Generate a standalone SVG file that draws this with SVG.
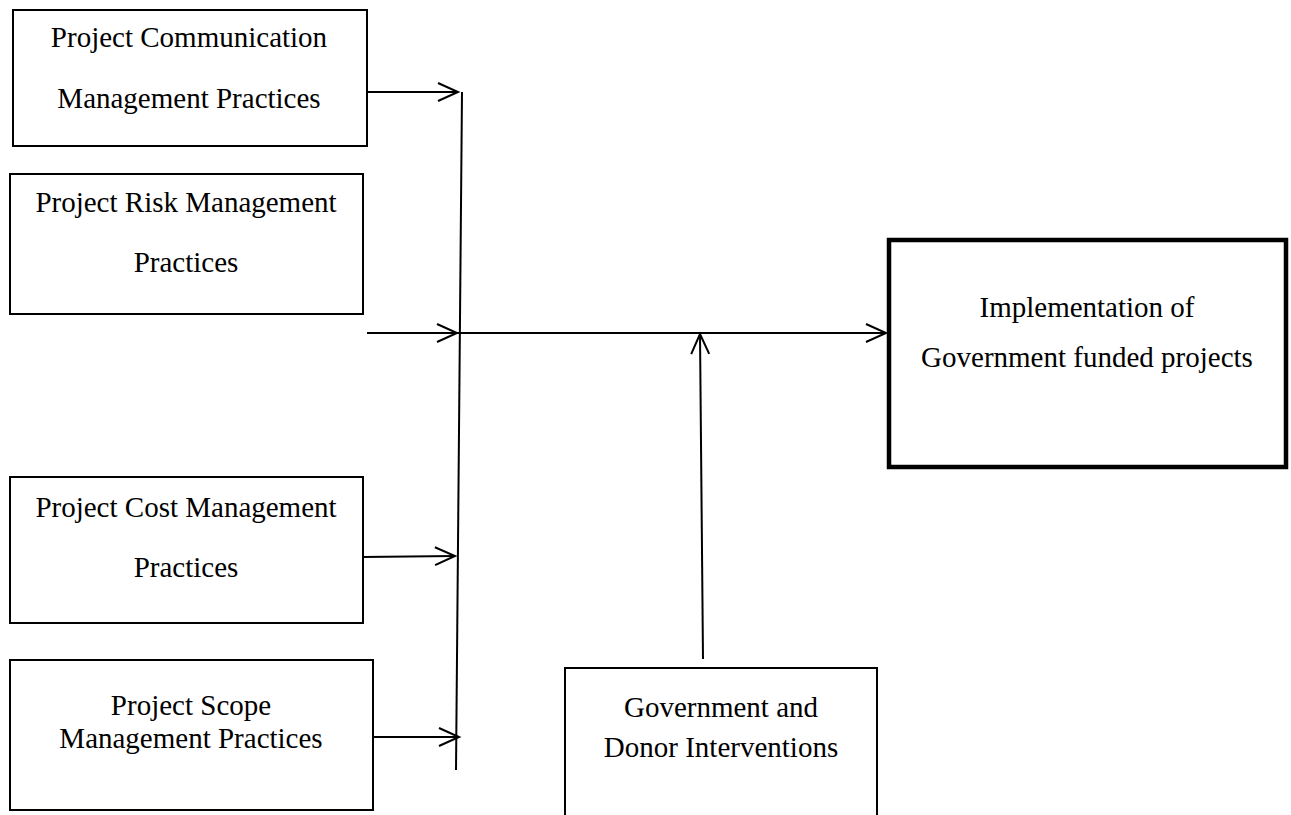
<svg xmlns="http://www.w3.org/2000/svg" width="1291" height="815" viewBox="0 0 1291 815">
  <defs>
    <marker id="open-arrow" markerUnits="userSpaceOnUse" markerWidth="26" markerHeight="22" viewBox="-22 -11 26 22" refX="0" refY="0" orient="auto">
      <path d="M-20,-9 L0,0 L-20,9" fill="none" stroke="#000" stroke-width="2"/>
    </marker>
  </defs>
  <style>
    .box { fill: #fff; stroke: #000; stroke-width: 2; }
    .box-bold { fill: #fff; stroke: #000; stroke-width: 4.5; }
    .label { font-family: "Liberation Serif", "Times New Roman", serif; font-size: 29px; fill: #000; text-anchor: middle; }
    .conn { fill: none; stroke: #000; stroke-width: 2; }
    .arrow { marker-end: url(#open-arrow); }
  </style>
  <rect width="1291" height="815" fill="#fff"/>

  <g id="communication">
    <rect class="box" x="13" y="10" width="354" height="136"/>
    <text class="label" x="189" y="47">Project Communication</text>
    <text class="label" x="189" y="108">Management Practices</text>
  </g>

  <g id="risk">
    <rect class="box" x="10" y="174" width="353" height="140"/>
    <text class="label" x="186" y="212">Project Risk Management</text>
    <text class="label" x="186" y="272">Practices</text>
  </g>

  <g id="cost">
    <rect class="box" x="10" y="477" width="353" height="146"/>
    <text class="label" x="186" y="517">Project Cost Management</text>
    <text class="label" x="186" y="577">Practices</text>
  </g>

  <g id="scope">
    <rect class="box" x="10" y="660" width="363" height="150"/>
    <text class="label" x="191" y="715">Project Scope</text>
    <text class="label" x="191" y="748">Management Practices</text>
  </g>

  <g id="interventions">
    <rect class="box" x="565" y="668" width="312" height="160"/>
    <text class="label" x="721" y="717">Government and</text>
    <text class="label" x="721" y="757">Donor Interventions</text>
  </g>

  <g id="implementation">
    <rect class="box-bold" x="889" y="240" width="397" height="227"/>
    <text class="label" x="1087" y="317">Implementation of</text>
    <text class="label" x="1087" y="367">Government funded projects</text>
  </g>

  <g id="connectors">
    <line class="conn" x1="462" y1="92" x2="456" y2="770"/>
    <line class="conn arrow" x1="367" y1="92" x2="458" y2="92"/>
    <line class="conn arrow" x1="367" y1="333" x2="457" y2="333"/>
    <line class="conn arrow" x1="363" y1="557" x2="455" y2="556"/>
    <line class="conn arrow" x1="373" y1="737" x2="459" y2="737"/>
    <line class="conn arrow" x1="457" y1="333" x2="886" y2="333"/>
    <line class="conn arrow" x1="703" y1="659" x2="700" y2="334"/>
  </g>
</svg>
